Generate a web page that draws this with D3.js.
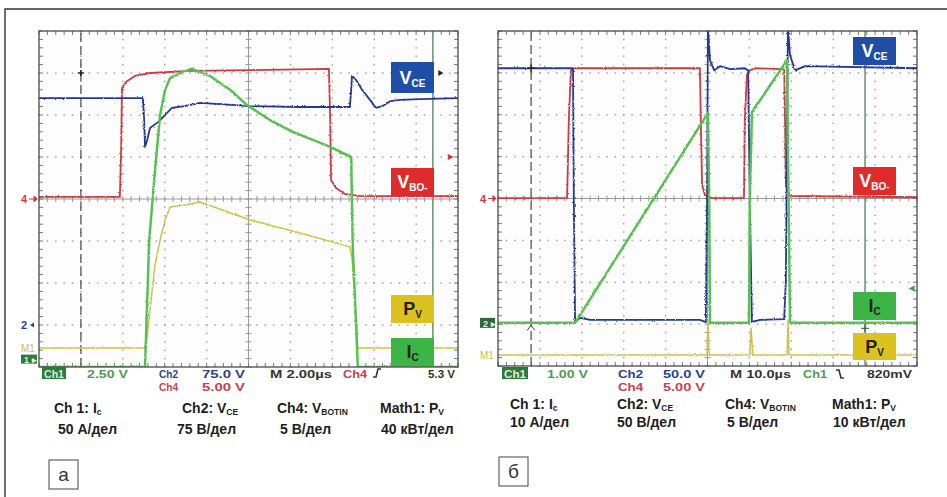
<!DOCTYPE html>
<html lang="ru">
<head>
<meta charset="UTF-8">
<title>Осциллограммы переключения</title>
<script src="https://d3js.org/d3.v7.min.js"></script>
<style>
  body { margin: 0; background: #fff; }
  svg { display: block; font-family: "Liberation Sans", Arial, sans-serif; }
</style>
</head>
<body>
<svg id="chart" width="947" height="497"></svg>
<script>
// traces: [time in divisions 0..10, level in divisions 0..8 from bottom]
// panel а
const aVbotin = [[0,4.05],[1.93,4.05],[1.96,5.17],[1.98,6.64],[2.08,6.79],[2.29,6.93],[2.65,7.0],[3.6,7.05],[5.04,7.07],[6.92,7.1],[6.95,5.88],[6.97,4.45],[7.09,4.26],[7.3,4.12],[7.66,4.07],[10,4.07]];
const aVce = [[0,6.4],[1.46,6.4],[2.48,6.4],[2.51,5.88],[2.53,5.24],[2.58,5.4],[2.65,5.69],[2.84,5.83],[3.01,6.0],[3.17,6.17],[3.48,6.21],[3.84,6.29],[4.32,6.26],[5.04,6.21],[6.23,6.19],[7.42,6.19],[7.45,6.6],[7.47,6.93],[7.57,6.83],[7.71,6.6],[7.9,6.36],[8.04,6.17],[8.19,6.21],[8.38,6.33],[8.62,6.36],[9.09,6.38],[10,6.4]];
const aIc = [[0,0],[2.53,0],[2.63,3.02],[2.77,4.69],[2.89,6.0],[3.01,6.6],[3.13,6.88],[3.37,7.0],[3.65,7.1],[4.08,6.93],[4.56,6.6],[4.96,6.24],[5.51,5.88],[6.06,5.6],[6.95,5.24],[7.45,5.0],[7.49,2.79],[7.61,0],[10,0]];
const aPv = [[0,0.45],[2.55,0.45],[2.65,1.36],[2.77,2.43],[2.89,3.02],[3.01,3.5],[3.13,3.81],[3.48,3.86],[3.84,3.93],[5.04,3.5],[6.23,3.19],[7.42,2.86],[7.47,2.6],[7.54,1.6],[7.61,0.45],[10,0.45]];
const aCursors = [1.0, 9.4];   // dashed, solid

// panel б
const bVbotin = [[0,4.01],[1.65,4.01],[1.69,5.87],[1.74,7.06],[1.84,7.11],[4.82,7.11],[4.84,5.87],[4.87,4.32],[4.94,4.08],[5.11,4.01],[5.87,4.01],[5.89,5.87],[5.94,6.95],[6.01,7.06],[6.13,7.11],[6.83,7.09],[6.85,5.87],[6.87,4.32],[6.97,4.06],[10,4.03]];
const bVce = [[0,7.11],[1.79,7.11],[1.81,3.96],[1.84,1.05],[1.96,1.15],[2.2,1.1],[4.82,1.1],[4.96,1.05],[4.99,3.96],[5.01,8.1],[5.06,7.3],[5.16,7.06],[5.3,7.16],[5.54,7.09],[5.89,7.11],[5.97,7.06],[6.01,3.96],[6.06,1.05],[6.25,1.1],[6.83,1.12],[6.87,2.05],[6.92,8.1],[6.97,7.42],[7.09,7.06],[7.33,7.16],[10,7.11]];
const bIc = [[0,1.03],[1.84,1.03],[5.01,6.04],[5.04,3.96],[5.06,1.03],[5.99,1.03],[6.01,3.96],[6.06,6.06],[6.9,7.3],[6.92,5.16],[6.97,1.03],[10,1.03]];
const bPv = [[0,0.26],[4.99,0.26],[5.01,1.1],[5.04,0.26],[6.01,0.26],[6.04,0.9],[6.08,0.26],[6.9,0.26],[6.92,1.1],[6.95,0.26],[10,0.26]];
const bCursors = [0.79, 8.76];

// status line of the scope and the legend under it
const aStatus = ["Ch1", "2.50 V", "Ch2", "75.0 V", "Ch4", "5.00 V", "M 2.00µs", "Ch4", "5.3 V"];
const bStatus = ["Ch1", "1.00 V", "Ch2", "50.0 V", "Ch4", "5.00 V", "M 10.0µs", "Ch1", "820mV"];
const aLegendTop = [["Ch 1: I", "c"], ["Ch2: V", "CE"], ["Ch4: V", "BOTIN"], ["Math1: P", "V"]];
const aLegendBottom = ["50 А/дел", "75 В/дел", "5 В/дел", "40 кВт/дел"];
const bLegendTop = [["Ch 1: I", "c"], ["Ch2: V", "CE"], ["Ch4: V", "BOTIN"], ["Math1: P", "V"]];
const bLegendBottom = ["10 А/дел", "50 В/дел", "5 В/дел", "10 кВт/дел"];
const panelNames = ["а", "б"];

const col = {
  blue: "#25398f", red: "#cc3a40", green: "#56c052", yellow: "#cdc24a",
  boxBlue: "#1f4ea6", boxRed: "#e02b2b", boxGreen: "#3db446", boxYellow: "#dcc21e",
  txtGreen: "#4f9a4f", txtBlue: "#2c3f8f", txtRed: "#c4424f"
};

const svg = d3.select("#chart");

// a little grain for the traces, like on the scope screen
const defs = svg.append("defs");
const f = defs.append("filter").attr("id", "grain")
  .attr("filterUnits", "userSpaceOnUse")
  .attr("x", 0).attr("y", 0).attr("width", 947).attr("height", 497);
f.append("feTurbulence").attr("type", "fractalNoise").attr("baseFrequency", "0.9")
  .attr("numOctaves", 1).attr("seed", 4).attr("result", "n");
f.append("feDisplacementMap").attr("in", "SourceGraphic").attr("in2", "n")
  .attr("scale", 2.6).attr("xChannelSelector", "R").attr("yChannelSelector", "G");

// outer frame
svg.append("path").attr("d", "M5,497 V9 H947").attr("fill", "none")
  .attr("stroke", "#333").attr("stroke-width", 1.4);

const panels = [
  { id: "a", x0: 39, y0: 31, w: 419, h: 336, traces: [[aPv, col.yellow, 1.5], [aVbotin, col.red, 1.8], [aVce, col.blue, 1.8], [aIc, col.green, 2.5]],
    cursors: aCursors, status: aStatus, legTop: aLegendTop, legBot: aLegendBottom,
    statusX: [42, 87, 159, 202, 159, 202, 270, 343, 428], statusW: [24, 41, 19, 43, 19, 43, 62, 24, 27],
    legX: [54, 182, 277, 380], legBX: [58, 177, 280, 381], legY: [413, 434],
    boxes: [[391, 62, 31, "V", "CE", col.boxBlue, "#fff"], [391, 168, 28, "V", "BO-", col.boxRed, "#fff"],
            [391, 295, 28, "P", "V", col.boxYellow, "#222"], [391, 338, 28, "I", "C", col.boxGreen, "#222"]],
    name: [49, 460] , edge: "rise" },
  { id: "b", x0: 498, y0: 31, w: 419, h: 335, traces: [[bPv, col.yellow, 1.5], [bVbotin, col.red, 1.8], [bVce, col.blue, 1.8], [bIc, col.green, 2.5]],
    cursors: bCursors, status: bStatus, legTop: bLegendTop, legBot: bLegendBottom,
    statusX: [502, 547, 618, 663, 618, 663, 730, 803, 867], statusW: [26, 41, 25, 42, 25, 42, 61, 24, 45],
    legX: [510, 617, 725, 832], legBX: [510, 617, 727, 833], legY: [409, 427],
    boxes: [[853, 37, 28, "V", "CE", col.boxBlue, "#fff"], [853, 167, 28, "V", "BO-", col.boxRed, "#fff"],
            [853, 292, 28, "I", "C", col.boxGreen, "#222"], [853, 333, 27, "P", "V", col.boxYellow, "#222"]],
    name: [499, 457], edge: "fall" }
];

const statusColors = ["#d8efd8", col.txtGreen, col.txtBlue, col.txtBlue, col.txtRed, col.txtRed, "#333", null, "#333"];

panels.forEach((p, pi) => {
  const g = svg.append("g");
  const x = d3.scaleLinear().domain([0, 10]).range([p.x0, p.x0 + p.w]);
  const y = d3.scaleLinear().domain([0, 8]).range([p.y0 + p.h, p.y0]);

  g.append("rect").attr("x", p.x0).attr("y", p.y0).attr("width", p.w).attr("height", p.h).attr("fill", "#fdfdfd");

  // dotted grid
  const minorX = d3.range(0, 10.001, 0.2), minorY = d3.range(0, 8.001, 0.2);
  const dots = [];
  [1, 2, 3, 4, 6, 7, 8, 9].forEach(i => minorY.forEach(v => dots.push([i, v])));
  [1, 2, 3, 5, 6, 7].forEach(j => minorX.forEach(t => dots.push([t, j])));
  g.selectAll(".dot").data(dots).join("rect")
    .attr("x", d => x(d[0]) - 0.7).attr("y", d => y(d[1]) - 0.7)
    .attr("width", 1.5).attr("height", 1.5).attr("fill", "#a4a4a4");

  // centre lines with ticks
  g.append("line").attr("x1", x(5)).attr("x2", x(5)).attr("y1", y(0)).attr("y2", y(8)).attr("stroke", "#9a9a9a");
  g.append("line").attr("x1", x(0)).attr("x2", x(10)).attr("y1", y(4)).attr("y2", y(4)).attr("stroke", "#9a9a9a");
  g.selectAll(".tx").data(minorX).join("line")
    .attr("x1", d => x(d)).attr("x2", d => x(d)).attr("y1", y(4) - 3).attr("y2", y(4) + 3).attr("stroke", "#9a9a9a");
  g.selectAll(".ty").data(minorY).join("line")
    .attr("y1", d => y(d)).attr("y2", d => y(d)).attr("x1", x(5) - 3).attr("x2", x(5) + 3).attr("stroke", "#9a9a9a");
  // border ticks
  g.selectAll(".bt").data(minorX).join("path")
    .attr("d", d => `M${x(d)},${y(8)}v4M${x(d)},${y(0)}v-4`).attr("stroke", "#777");
  g.selectAll(".bl").data(minorY).join("path")
    .attr("d", d => `M${x(0)},${y(d)}h4M${x(10)},${y(d)}h-4`).attr("stroke", "#777");

  // cursors
  g.append("line").attr("x1", x(p.cursors[0])).attr("x2", x(p.cursors[0])).attr("y1", y(0)).attr("y2", y(8))
    .attr("stroke", "#555").attr("stroke-width", 1.3).attr("stroke-dasharray", "9,4");
  g.append("line").attr("x1", x(p.cursors[1])).attr("x2", x(p.cursors[1])).attr("y1", y(0)).attr("y2", y(8))
    .attr("stroke", "#6f9a78").attr("stroke-width", 1.6);

  // traces
  defs.append("clipPath").attr("id", "clip" + p.id).append("rect")
    .attr("x", p.x0).attr("y", p.y0).attr("width", p.w).attr("height", p.h);
  const line = d3.line().x(d => x(d[0])).y(d => y(d[1]));
  const tg = g.append("g").attr("clip-path", `url(#clip${p.id})`).append("g").attr("filter", "url(#grain)");
  p.traces.forEach(([data, c, sw]) => {
    tg.append("path").datum(data).attr("d", line).attr("fill", "none")
      .attr("stroke", c).attr("stroke-width", sw).attr("stroke-linejoin", "round");
  });

  // border
  g.append("rect").attr("x", p.x0).attr("y", p.y0).attr("width", p.w).attr("height", p.h)
    .attr("fill", "none").attr("stroke", "#4a4a4a").attr("stroke-width", 1.3);

  // trace label boxes
  p.boxes.forEach(([bx, by, bh, main, sub, fill, tc]) => {
    g.append("rect").attr("x", bx).attr("y", by).attr("width", 43).attr("height", bh).attr("fill", fill);
    const t = g.append("text").attr("x", bx + 21.5).attr("y", by + bh / 2 + 6).attr("text-anchor", "middle")
      .attr("fill", tc).attr("font-weight", "bold");
    t.append("tspan").attr("font-size", 18).text(main);
    t.append("tspan").attr("font-size", 10).attr("dy", 3).text(sub);
  });

  // channel markers on the left edge
  const lx = p.x0 - 18;
  g.append("text").attr("x", lx).attr("y", y(4) + 4).attr("font-size", 11).attr("font-weight", "bold")
    .attr("fill", col.red).text("4");
  g.append("path").attr("d", `M${lx + 8},${y(4)}h8l-3,-3v6l3,-3`).attr("stroke", col.red).attr("fill", col.red);
  if (pi === 0) {
    g.append("text").attr("x", lx).attr("y", y(1) + 4).attr("font-size", 11).attr("font-weight", "bold")
      .attr("fill", col.txtBlue).text("2");
    g.append("path").attr("d", `M${lx + 9},${y(1)}l4,-2.5v5z`).attr("fill", col.txtBlue);
    g.append("text").attr("x", lx).attr("y", y(0.45) + 4).attr("font-size", 10).attr("fill", "#d3b84a").text("M1");
    g.append("rect").attr("x", lx).attr("y", y(0.2) - 4).attr("width", 16).attr("height", 9).attr("fill", "#2f7a3a");
    g.append("text").attr("x", lx + 3).attr("y", y(0.2) + 4).attr("font-size", 9).attr("font-weight", "bold")
      .attr("fill", "#e0f0e0").text("1 ▸");
    g.append("path").attr("d", `M${x(9.65)},${y(7.0)}l-5,-3v6z`).attr("fill", "#222");
    g.append("path").attr("d", `M${x(9.9)},${y(5.0)}l-6,-3v6z`).attr("fill", col.red);
    g.append("path").attr("d", `M${x(1.0) - 3},${y(7.0)}h6M${x(1.0)},${y(7.0) - 3}v6`).attr("stroke", "#222").attr("stroke-width", 1.6);
  } else {
    g.append("rect").attr("x", lx).attr("y", y(1.03) - 5).attr("width", 15).attr("height", 10).attr("fill", "#2f6a3a");
    g.append("text").attr("x", lx + 3).attr("y", y(1.03) + 4).attr("font-size", 9).attr("font-weight", "bold")
      .attr("fill", "#e0f0e0").text("2 ▸");
    g.append("text").attr("x", lx).attr("y", y(0.26) + 4).attr("font-size", 10).attr("fill", "#d3b84a").text("M1");
    g.append("path").attr("d", `M${x(9.8)},${y(1.85)}l6,-3v6z`).attr("fill", col.txtGreen);
    g.append("path").attr("d", `M${x(0.79) - 4},${y(7.11)}h8M${x(0.79)},${y(7.11) - 4}v8`).attr("stroke", "#222").attr("stroke-width", 1.4);
    g.append("path").attr("d", `M${x(0.79) - 4},${y(0.85)}l4,-5l4,5`).attr("fill", "none").attr("stroke", "#444");
    g.append("path").attr("d", `M${x(8.76) - 4},${y(0.9)}h8M${x(8.76)},${y(0.9) - 4}v8`).attr("stroke", "#444");
  }

  // status line
  p.status.forEach((s, i) => {
    const sy = (i === 4 || i === 5) ? 391 : 377.5;
    if (i === 0) {
      g.append("rect").attr("x", p.statusX[0]).attr("y", 367).attr("width", p.statusW[0]).attr("height", 12).attr("fill", "#2f7a3a");
    }
    let c = statusColors[i];
    if (i === 7) c = pi === 0 ? col.txtRed : col.txtGreen;
    g.append("text").attr("x", p.statusX[i] + (i === 0 ? 2 : 0)).attr("y", sy)
      .attr("font-size", 11.5).attr("font-weight", "bold").attr("fill", c)
      .attr("textLength", p.statusW[i] - (i === 0 ? 4 : 0)).attr("lengthAdjust", "spacingAndGlyphs").text(s);
  });
  const ex = p.statusX[7] + p.statusW[7] + (pi === 0 ? 6 : 9);
  g.append("path").attr("d", p.edge === "rise"
      ? `M${ex},377h3l2,-8h3` : `M${ex},370h3l2,8h3`)
    .attr("fill", "none").attr("stroke", "#333").attr("stroke-width", 1.6);

  // legend under the screen
  p.legTop.forEach(([main, sub], i) => {
    const t = g.append("text").attr("x", p.legX[i]).attr("y", p.legY[0]).attr("font-size", 14)
      .attr("font-weight", "bold").attr("fill", "#1e1e1e");
    t.append("tspan").text(main);
    t.append("tspan").attr("font-size", 8.5).attr("dy", 2).text(sub);
  });
  p.legBot.forEach((s, i) => {
    g.append("text").attr("x", p.legBX[i]).attr("y", p.legY[1]).attr("font-size", 14)
      .attr("font-weight", "bold").attr("fill", "#1e1e1e").text(s);
  });

  // panel name
  g.append("rect").attr("x", p.name[0]).attr("y", p.name[1]).attr("width", 29).attr("height", 29)
    .attr("fill", "#fff").attr("stroke", "#444").attr("stroke-width", 1);
  g.append("text").attr("x", p.name[0] + 14.5).attr("y", p.name[1] + 21).attr("text-anchor", "middle")
    .attr("font-size", 19).attr("fill", "#333").text(panelNames[pi]);
});
</script>
</body>
</html>
